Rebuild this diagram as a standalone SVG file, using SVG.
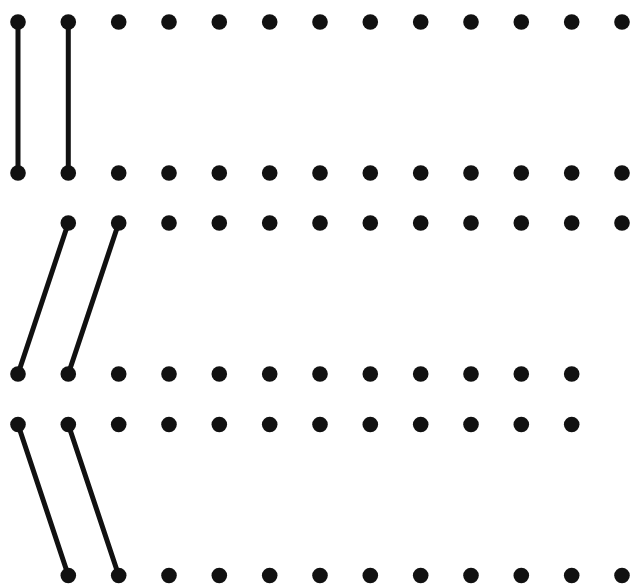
<svg xmlns="http://www.w3.org/2000/svg" width="635" height="584" viewBox="0 0 635 584">
<defs>
<style>
.d{fill:#111}
.l{stroke:#111;stroke-width:5;stroke-linecap:round;fill:none}
</style>
<circle id="dot" class="d" r="7.8"/>
</defs>
<rect width="635" height="584" fill="#fff"/>
<g id="connectors">
<line class="l" x1="18" y1="22" x2="18" y2="173"/>
<line class="l" x1="68.3" y1="22" x2="68.3" y2="173"/>
<line class="l" x1="68.3" y1="223" x2="18" y2="374"/>
<line class="l" x1="118.7" y1="223" x2="68.3" y2="374"/>
<line class="l" x1="18" y1="424.5" x2="68.3" y2="575.5"/>
<line class="l" x1="68.3" y1="424.5" x2="118.7" y2="575.5"/>
</g>
<g id="row1">
<use href="#dot" x="18" y="22"/><use href="#dot" x="68.3" y="22"/><use href="#dot" x="118.7" y="22"/><use href="#dot" x="169" y="22"/><use href="#dot" x="219.3" y="22"/><use href="#dot" x="269.7" y="22"/><use href="#dot" x="320" y="22"/><use href="#dot" x="370.3" y="22"/><use href="#dot" x="420.7" y="22"/><use href="#dot" x="471" y="22"/><use href="#dot" x="521.3" y="22"/><use href="#dot" x="571.7" y="22"/><use href="#dot" x="622" y="22"/>
</g>
<g id="row2">
<use href="#dot" x="18" y="173"/><use href="#dot" x="68.3" y="173"/><use href="#dot" x="118.7" y="173"/><use href="#dot" x="169" y="173"/><use href="#dot" x="219.3" y="173"/><use href="#dot" x="269.7" y="173"/><use href="#dot" x="320" y="173"/><use href="#dot" x="370.3" y="173"/><use href="#dot" x="420.7" y="173"/><use href="#dot" x="471" y="173"/><use href="#dot" x="521.3" y="173"/><use href="#dot" x="571.7" y="173"/><use href="#dot" x="622" y="173"/>
</g>
<g id="row3">
<use href="#dot" x="68.3" y="223"/><use href="#dot" x="118.7" y="223"/><use href="#dot" x="169" y="223"/><use href="#dot" x="219.3" y="223"/><use href="#dot" x="269.7" y="223"/><use href="#dot" x="320" y="223"/><use href="#dot" x="370.3" y="223"/><use href="#dot" x="420.7" y="223"/><use href="#dot" x="471" y="223"/><use href="#dot" x="521.3" y="223"/><use href="#dot" x="571.7" y="223"/><use href="#dot" x="622" y="223"/>
</g>
<g id="row4">
<use href="#dot" x="18" y="374"/><use href="#dot" x="68.3" y="374"/><use href="#dot" x="118.7" y="374"/><use href="#dot" x="169" y="374"/><use href="#dot" x="219.3" y="374"/><use href="#dot" x="269.7" y="374"/><use href="#dot" x="320" y="374"/><use href="#dot" x="370.3" y="374"/><use href="#dot" x="420.7" y="374"/><use href="#dot" x="471" y="374"/><use href="#dot" x="521.3" y="374"/><use href="#dot" x="571.7" y="374"/>
</g>
<g id="row5">
<use href="#dot" x="18" y="424.5"/><use href="#dot" x="68.3" y="424.5"/><use href="#dot" x="118.7" y="424.5"/><use href="#dot" x="169" y="424.5"/><use href="#dot" x="219.3" y="424.5"/><use href="#dot" x="269.7" y="424.5"/><use href="#dot" x="320" y="424.5"/><use href="#dot" x="370.3" y="424.5"/><use href="#dot" x="420.7" y="424.5"/><use href="#dot" x="471" y="424.5"/><use href="#dot" x="521.3" y="424.5"/><use href="#dot" x="571.7" y="424.5"/>
</g>
<g id="row6">
<use href="#dot" x="68.3" y="575.5"/><use href="#dot" x="118.7" y="575.5"/><use href="#dot" x="169" y="575.5"/><use href="#dot" x="219.3" y="575.5"/><use href="#dot" x="269.7" y="575.5"/><use href="#dot" x="320" y="575.5"/><use href="#dot" x="370.3" y="575.5"/><use href="#dot" x="420.7" y="575.5"/><use href="#dot" x="471" y="575.5"/><use href="#dot" x="521.3" y="575.5"/><use href="#dot" x="571.7" y="575.5"/><use href="#dot" x="622" y="575.5"/>
</g>
</svg>
